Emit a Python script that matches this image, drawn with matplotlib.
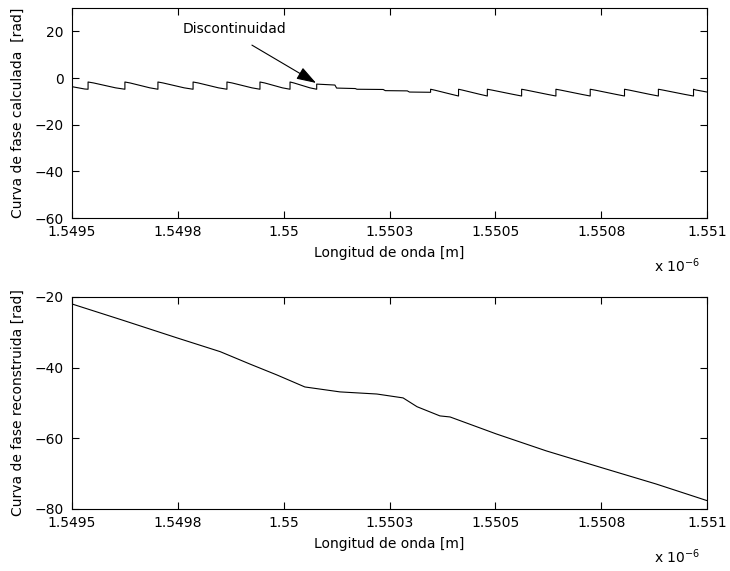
import matplotlib
matplotlib.use("Agg")
import matplotlib.pyplot as plt

plt.rcParams['font.family'] = ['DejaVu Sans']

# wavelength in units of 1e-6 m
tick_pos = [1.5495, 1.54975, 1.55, 1.55025, 1.5505, 1.55075, 1.551]
tick_labels = ['1.5495', '1.5498', '1.55', '1.5503', '1.5505', '1.5508', '1.551']

# calculated (wrapped) phase
lam_calc = [1.549500, 1.549530,
            1.549538, 1.549538, 1.549551, 1.549603,
            1.549625, 1.549625, 1.549637, 1.549684,
            1.549703, 1.549703, 1.549715, 1.549765,
            1.549786, 1.549786, 1.549798, 1.549846,
            1.549866, 1.549866, 1.549878, 1.549925,
            1.549944, 1.549944, 1.549955, 1.549997,
            1.550015, 1.550015, 1.550024, 1.550062,
            1.550078, 1.550078, 1.550121, 1.550125, 1.550169, 1.550173,
            1.550235, 1.550240, 1.550292, 1.550297,
            1.550347, 1.550347, 1.550357, 1.550397,
            1.550413, 1.550413, 1.550423, 1.550464,
            1.550481, 1.550481, 1.550493, 1.550542,
            1.550562, 1.550562, 1.550574, 1.550623,
            1.550643, 1.550643, 1.550655, 1.550704,
            1.550724, 1.550724, 1.550736, 1.550785,
            1.550805, 1.550805, 1.550817, 1.550865,
            1.550885, 1.550885, 1.550897, 1.550947,
            1.550968, 1.550968, 1.550973, 1.551000]
fase_calc = [-3.7, -4.7,
             -4.8, -1.7, -2.1, -4.2,
             -4.8, -1.7, -2.1, -4.2,
             -4.8, -1.7, -2.1, -4.2,
             -4.8, -1.7, -2.1, -4.2,
             -4.8, -1.7, -2.1, -4.2,
             -4.8, -1.7, -2.1, -4.2,
             -4.8, -1.7, -2.1, -4.2,
             -4.8, -2.6, -3.0, -4.3, -4.5, -4.8,
             -4.9, -5.4, -5.5, -6.0,
             -6.1, -4.8, -5.2, -7.0,
             -7.7, -4.8, -5.2, -7.0,
             -7.7, -4.8, -5.2, -7.0,
             -7.7, -4.8, -5.2, -7.0,
             -7.7, -4.8, -5.2, -7.0,
             -7.7, -4.8, -5.2, -7.0,
             -7.7, -4.8, -5.2, -7.0,
             -7.7, -4.8, -5.2, -7.0,
             -7.7, -4.8, -5.1, -6.0]

# reconstructed (unwrapped) phase
lam_rec = [1.549500, 1.549620, 1.549748, 1.549850, 1.549920, 1.549984,
           1.550050, 1.550133, 1.550220, 1.550282, 1.550315, 1.550369,
           1.550393, 1.550502, 1.550620, 1.550752, 1.550880, 1.551000]
fase_rec = [-22.0, -26.6, -31.6, -35.5, -39.0, -42.1,
            -45.5, -46.9, -47.5, -48.6, -51.1, -53.7,
            -54.0, -58.8, -63.6, -68.4, -73.0, -77.7]

fig = plt.figure(figsize=(7.30, 5.71), dpi=100)
ax1 = fig.add_axes([0.0986, 0.618, 0.870, 0.368])
ax2 = fig.add_axes([0.0986, 0.109, 0.870, 0.371])

ax1.plot(lam_calc, fase_calc, color='black', lw=0.8)
ax2.plot(lam_rec, fase_rec, color='black', lw=0.8)

ax1.set_ylim(-60, 30)
ax1.set_yticks([-60, -40, -20, 0, 20])
ax2.set_ylim(-80, -20)
ax2.set_yticks([-80, -60, -40, -20])

for ax, ylab in [(ax1, 'Curva de fase calculada  [rad]'),
                 (ax2, 'Curva de fase reconstruida [rad]')]:
    ax.set_xlim(1.5495, 1.551)
    ax.set_xticks(tick_pos)
    ax.set_xticklabels(tick_labels)
    ax.tick_params(direction='in', length=5, width=0.8, top=True, right=True,
                   labelsize=10, pad=6)
    ax.tick_params(axis='x', pad=5)
    for s in ax.spines.values():
        s.set_linewidth(0.8)
    ax.set_xlabel('Longitud de onda [m]', fontsize=10, labelpad=5)
    ax.set_ylabel(ylab, fontsize=10)
    ax.yaxis.set_label_coords(-0.074, 0.5)
    ax.text(0.989, -0.225, r'x 10$^{-6}$', transform=ax.transAxes,
            ha='right', va='center', fontsize=10)

ax1.text(1.549885, 21, 'Discontinuidad', ha='center', va='center', fontsize=10)
ax1.annotate('', xy=(1.5500764, -2.1), xytext=(1.549925, 14.1),
             arrowprops=dict(arrowstyle='-|>,head_length=0.6,head_width=0.2',
                             color='black', lw=0.8, mutation_scale=20,
                             shrinkA=0, shrinkB=0))

fig.savefig('out.png', dpi=100)
